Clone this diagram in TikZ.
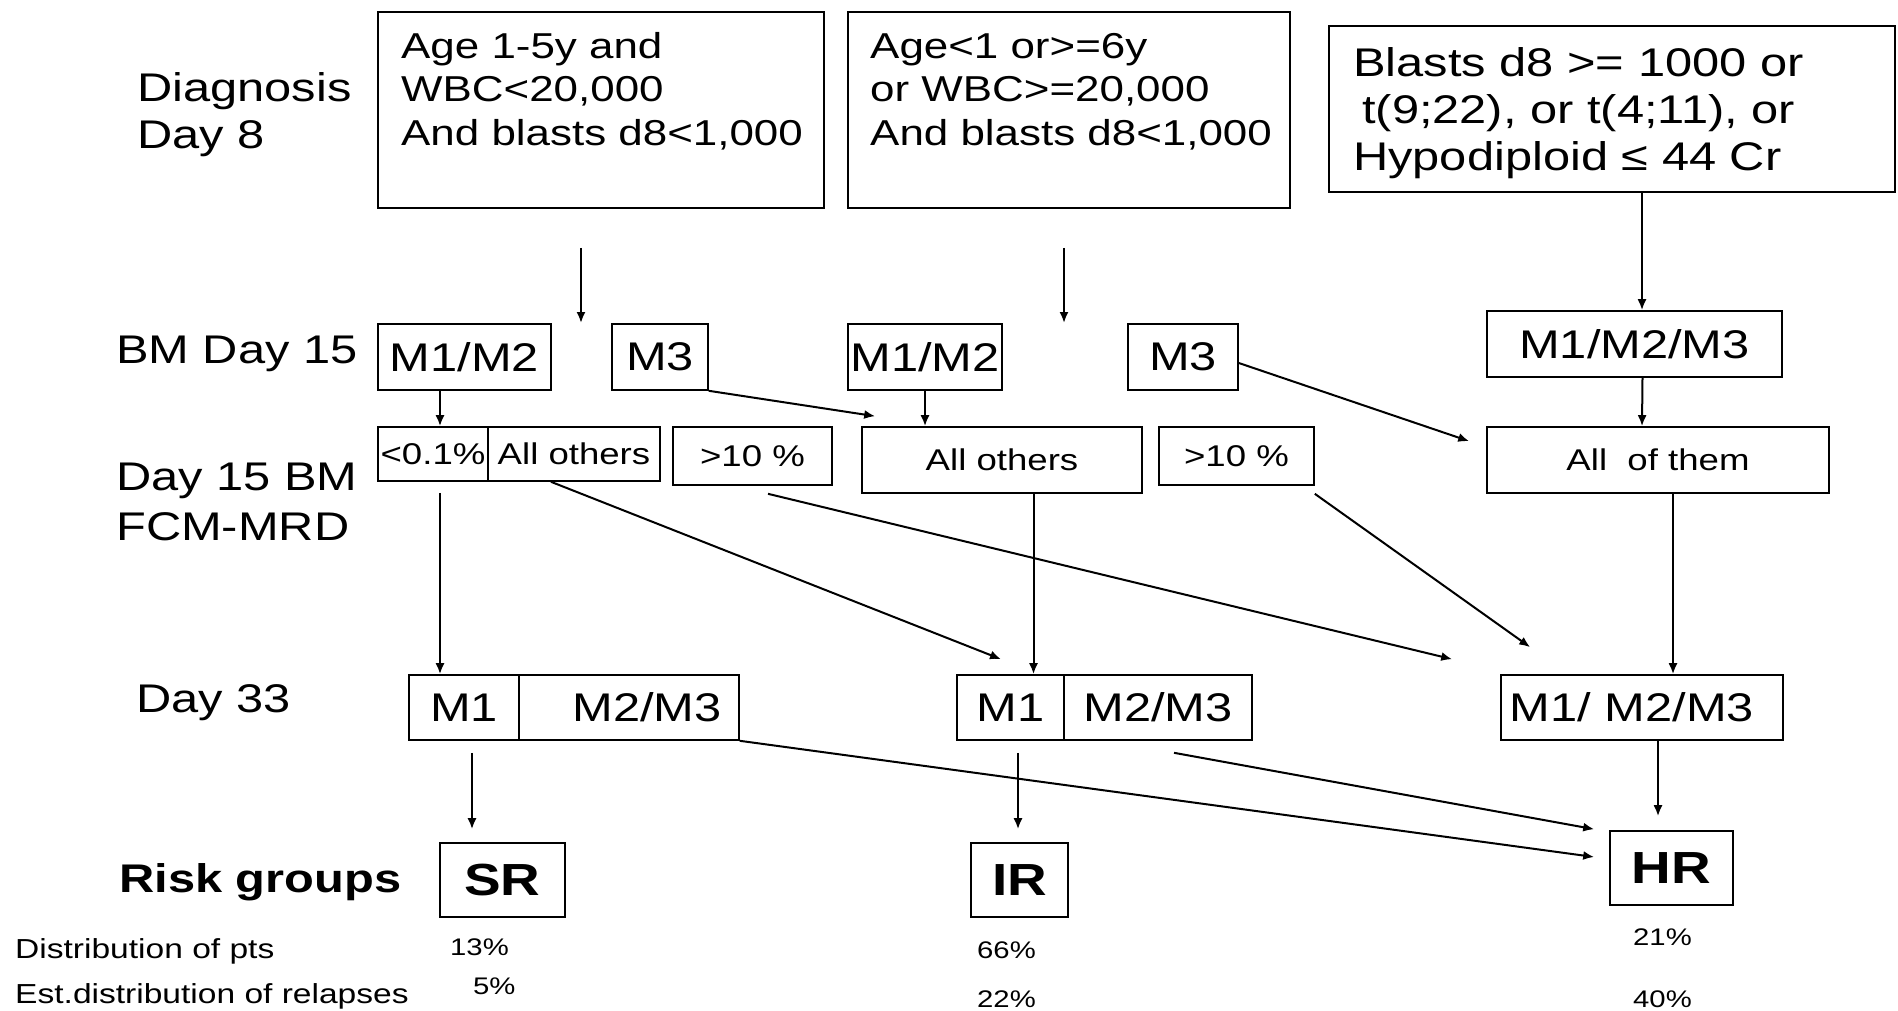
\documentclass[tikz,border=0pt]{standalone}
\usepackage{fontspec}
\setmainfont{Liberation Sans}[FakeStretch=1.22]
\usetikzlibrary{arrows.meta,calc}
\newcommand\szLab{\fontsize{40}{46.5}\selectfont}
\newcommand\szAB{\fontsize{36}{43.5}\selectfont}
\newcommand\szC{\fontsize{40}{47}\selectfont}
\newcommand\szM{\fontsize{40}{48}\selectfont}
\newcommand\szS{\fontsize{30}{36}\selectfont}
\newcommand\szR{\fontsize{45}{54}\selectfont\bfseries}
\newcommand\szP{\fontsize{24}{29}\selectfont}
\newcommand\szD{\fontsize{27.5}{33}\selectfont}
\begin{document}
\begin{tikzpicture}[x=1pt,y=-1pt,
  box/.style={draw, line width=1.6pt, inner sep=0pt, font=\szM},
  wh/.style 2 args={minimum width=#1pt, minimum height=#2pt},
  txt/.style={inner sep=0pt, align=left, anchor=base west},
  conn/.style={line width=2pt, -{Latex[length=11pt,width=9pt]}}]
\useasboundingbox (0,0) rectangle (1898,1010);

% row labels (base anchor = baseline of the last line)
\node[txt, font=\szLab] (lDiag) at (137,148) {Diagnosis\\Day 8};
\node[txt, font=\szLab] (lBM) at (116,363) {BM Day 15};
\node[txt, font=\fontsize{40}{50}\selectfont] (lFCM) at (116,540) {Day 15 BM\\FCM-MRD};
\node[txt, font=\szLab] (lD33) at (136,712) {Day 33};
\node[txt, font=\fontsize{40}{48}\selectfont\bfseries] (lRisk) at (119,892) {Risk groups};
\node[txt, font=\szD] (lDist) at (15,958) {Distribution of pts};
\node[txt, font=\szD] (lRel) at (15,1003) {Est.distribution of relapses};

% top boxes
\node[box, wh={446}{196}] (A) at (601,110) {};
\node[txt, font=\szAB] (tAtext) at (401,145) {Age 1-5y and\\WBC<20,000\\And blasts d8<1,000};
\node[box, wh={442}{196}] (B) at (1069,110) {};
\node[txt, font=\szAB] (tBtext) at (870,145) {Age<1 or>=6y\\or WBC>=20,000\\And blasts d8<1,000};
\node[box, wh={566}{166}] (C) at (1612,109) {};
\node[txt, font=\szC] (tCtext) at (1353,170) {Blasts d8 >= 1000 or\\\hspace*{9pt}t(9;22), or t(4;11), or\\Hypodiploid ≤ 44 Cr};

% BM day 15
\node[box, wh={173}{66}] (m12a) at (464.5,357) {M1/M2};
\node[box, wh={96}{66}] (m3a) at (660,357) {M3};
\node[box, wh={154}{66}] (m12b) at (925,357) {M1/M2};
\node[box, wh={110}{66}] (m3b) at (1183,357) {M3};
\node[box, wh={295}{66}] (m123) at (1634.5,344) {M1/M2/M3};

% Day 15 FCM-MRD
\node[box, wh={110}{54}, font=\szS] (lt01) at (433,454) {<0.1\%};
\node[box, wh={172}{54}, font=\szS] (othA) at (574,454) {All others};
\node[box, wh={159}{58}, font=\szS] (gt10a) at (752.5,456) {>10 \%};
\node[box, wh={280}{66}, font=\szS] (othB) at (1002,460) {All others};
\node[box, wh={155}{58}, font=\szS] (gt10b) at (1236.5,456) {>10 \%};
\node[box, wh={342}{66}, font=\szS] (allthem) at (1658,460) {All\ \ of them};

% Day 33
\node[box, wh={110}{65}] (d33a1) at (464,707.5) {M1};
\node[box, wh={220}{65}] (d33a2) at (629,707.5) {\hspace*{36pt}M2/M3};
\node[box, wh={107}{65}] (d33b1) at (1010.5,707.5) {M1};
\node[box, wh={188}{65}] (d33b2) at (1158,707.5) {M2/M3};
\node[box, wh={282}{65}] (d33c) at (1642,707.5) {M1/ M2/M3\hspace*{20pt}};

% risk groups
\node[box, wh={125}{74}, font=\szR] (SR) at (502.5,880) {SR};
\node[box, wh={97}{74}, font=\szR] (IR) at (1019.5,880) {IR};
\node[box, wh={123}{74}, font=\szR] (HR) at (1671.5,868) {HR};

% percentages
\node[txt, font=\szP] (p13) at (450,955) {13\%};
\node[txt, font=\szP] (p5) at (473,994) {5\%};
\node[txt, font=\szP] (p66) at (977,958) {66\%};
\node[txt, font=\szP] (p22) at (977,1007) {22\%};
\node[txt, font=\szP] (p21) at (1633,945) {21\%};
\node[txt, font=\szP] (p40) at (1633,1007) {40\%};

% connectors
\coordinate (tipA) at (581,323);
\coordinate (tipB) at (1064,323);
\draw[conn] ([xshift=-20pt,yshift=-39pt]A.south) -- (tipA);
\draw[conn] ([xshift=-5pt,yshift=-39pt]B.south) -- (tipB);
\draw[conn] ([xshift=30pt]C.south) -- ([xshift=7.5pt]m123.north);
\draw[conn] ([xshift=-24.5pt]m12a.south) -- ([xshift=7pt]lt01.north);
\draw[conn] (m3a.south east) -- ([xshift=14pt,yshift=10pt]othB.north west);
\draw[conn] (m12b.south) -- (m12b.south |- othB.north);
\draw[conn] ([yshift=-6pt]m3b.east) -- ([xshift=-17pt,yshift=-15pt]allthem.north west);
\draw[conn] ([xshift=8pt]m123.south) -- ([xshift=-16pt]allthem.north);
\draw[conn] ([xshift=7pt,yshift=-11pt]lt01.south) -- ([xshift=-24pt]d33a1.north);
\draw[conn] ([xshift=-23pt]othA.south) -- ([xshift=-9.5pt,yshift=15pt]d33b1.north);
\draw[conn] ([xshift=15.5pt,yshift=-8pt]gt10a.south) -- ([xshift=-48pt,yshift=15pt]d33c.north west);
\draw[conn] ([xshift=31.5pt]othB.south) -- ([xshift=23pt]d33b1.north);
\draw[conn] ([yshift=-8pt]gt10b.south east) -- ([xshift=30pt,yshift=27pt]d33c.north west);
\draw[conn] ([xshift=15pt]allthem.south) -- ([xshift=31pt]d33c.north);
\draw[conn] ([xshift=8pt,yshift=-12pt]d33a1.south) -- ([xshift=-30.5pt,yshift=13pt]SR.north);
\draw[conn] (d33a2.south east) -- ([xshift=-15pt,yshift=11pt]HR.west);
\draw[conn] ([xshift=7.5pt,yshift=-12pt]d33b1.south) -- ([xshift=-1.5pt,yshift=13pt]IR.north);
\draw[conn] ([xshift=16pt,yshift=-12pt]d33b2.south) -- ([xshift=-15pt,yshift=1pt]HR.north west);
\draw[conn] ([xshift=16pt]d33c.south) -- ([xshift=-13.5pt,yshift=14pt]HR.north);
\end{tikzpicture}
\end{document}
